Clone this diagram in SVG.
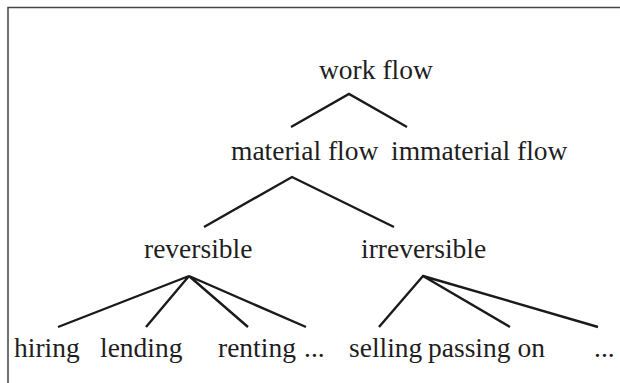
<svg xmlns="http://www.w3.org/2000/svg" width="620" height="383" viewBox="0 0 620 383">
<style>
.t{font-family:"Liberation Serif","Times New Roman",serif;font-size:27.5px;fill:#1e1e1e}
.e{stroke:#1a1a1a;stroke-width:2.4;fill:none;stroke-linecap:butt}
.f{stroke:#444;stroke-width:1.5;fill:none}
</style>
<rect width="620" height="383" fill="#fff"/>
<path class="f" d="M8 383 V7.5 H620"/>
<g id="connectors">
<path class="e" d="M291 127 L349 94 L407 127"/>
<path class="e" d="M204 227 L292 177 L394 227"/>
<path class="e" d="M58 327 L189 276 L146 327 M189 276 L248 327 M189 276 L306 327"/>
<path class="e" d="M379 327 L423 276 L510 327 M423 276 L598 327"/>
</g>
<g id="work-flow"><text class="t" x="319" y="79">work flow</text></g>
<g id="material-flow"><text class="t" x="231" y="160">material flow</text></g>
<g id="immaterial-flow"><text class="t" x="391" y="160">immaterial flow</text></g>
<g id="reversible"><text class="t" x="144" y="258">reversible</text></g>
<g id="irreversible"><text class="t" x="361" y="258">irreversible</text></g>
<g id="hiring"><text class="t" x="14" y="357">hiring</text></g>
<g id="lending"><text class="t" x="100" y="357">lending</text></g>
<g id="renting"><text class="t" x="218" y="357">renting</text></g>
<g id="etc1"><text class="t" x="304" y="357">...</text></g>
<g id="selling"><text class="t" x="349" y="357">selling</text></g>
<g id="passing-on"><text class="t" x="428" y="357">passing on</text></g>
<g id="etc2"><text class="t" x="594" y="357">...</text></g>
</svg>
